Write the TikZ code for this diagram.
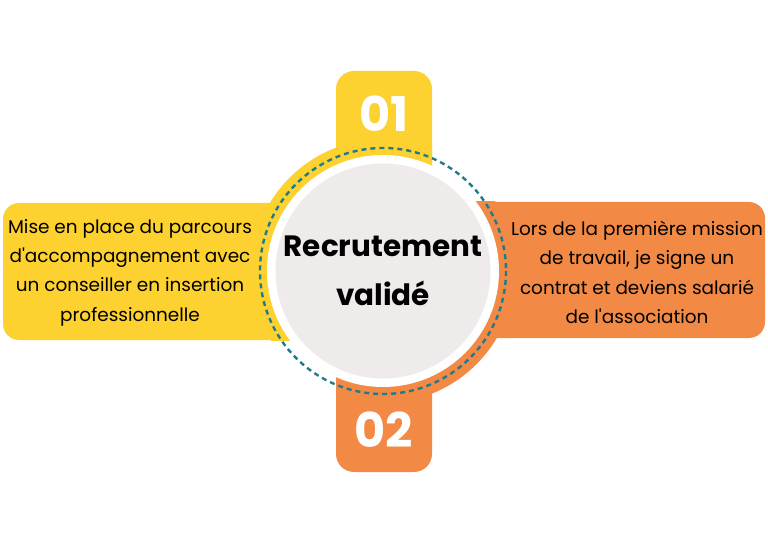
\documentclass[tikz,border=0pt]{standalone}
\usepackage{fontspec}
\newfontfamily\poppins{Poppins}
\usepackage{tikz}

\definecolor{jaune}{HTML}{FDD12F}
\definecolor{orangeetape}{HTML}{F28A45}
\definecolor{grisclair}{HTML}{EFEBEB}
\definecolor{bleucanard}{HTML}{1F7A8C}

\tikzset{
  texte/.style={align=center, text=black, font=\poppins\fontsize{18.5}{29.5}\selectfont},
  titre/.style={align=center, text=black, font=\poppins\bfseries\fontsize{29.5}{49}\selectfont},
  numero/.style={text=white, font=\poppins\bfseries\fontsize{48}{48}\selectfont},
  pointille/.style={draw=bleucanard, line width=2.4bp, dash pattern=on 5bp off 4bp}
}

\begin{document}
\begin{tikzpicture}[x=1bp, y=-1bp]
\useasboundingbox (0,0) rectangle (768,543);
\coordinate (centre) at (383,271);

% etape 01
\fill[jaune, rounded corners=16bp] (3,203) rectangle (383,340);
\fill[jaune, rounded corners=18bp] (336,71) rectangle (432,200);
\begin{scope}
\clip (0,0) rectangle (432,340);
\fill[jaune] (centre) circle[radius=132];
\end{scope}

% etape 02
\fill[orangeetape, rounded corners=16bp] (383,202) rectangle (765,338);
\fill[orangeetape, rounded corners=18bp] (336,340) rectangle (432,472);
\begin{scope}
\clip (336,202) rectangle (768,543);
\fill[orangeetape] (centre) circle[radius=132];
\end{scope}

% cercle central
\fill[white] (centre) circle[radius=116];
\fill[grisclair] (centre) circle[radius=107.5];
\draw[pointille] (centre) circle[radius=123];

\node[numero] (num1) at (384,114) {01};
\node[numero] (num2) at (384,430) {02};
\node[titre] (titre) at (centre) {Recrutement\\validé};
\node[texte] (etape1) at (130,272.5) {Mise en place du parcours\\d'accompagnement avec\\un conseiller en insertion\\professionnelle};
\node[texte] (etape2) at (637,272.5) {Lors de la première mission\\de travail, je signe un\\contrat et deviens salarié\\de l'association};
\end{tikzpicture}
\end{document}
